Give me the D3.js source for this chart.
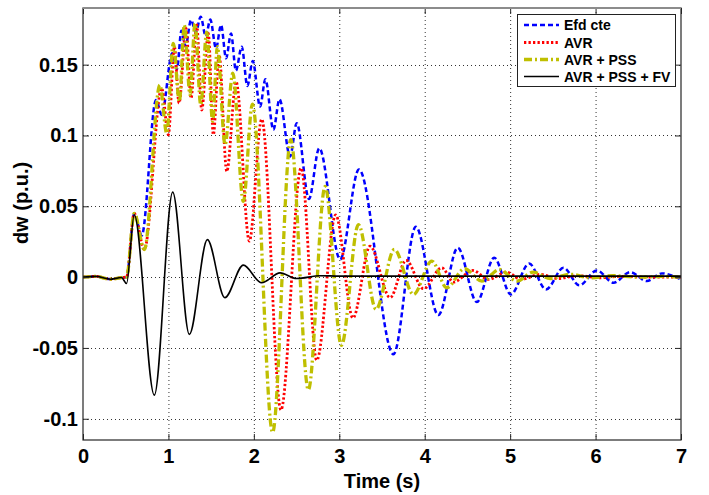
<!DOCTYPE html>
<html>
<head>
<meta charset="utf-8">
<script src="https://cdnjs.cloudflare.com/ajax/libs/d3/7.8.5/d3.min.js"></script>
<style>
  body { margin: 0; background: #fff; }
  text { font-family: "Liberation Sans", Arial, sans-serif; font-weight: bold; fill: #000; }
</style>
</head>
<body>
<script>
  // time (s) / speed deviation (p.u.), mostly at turning points
  const efdT = [0, 0.15, 0.32, 0.45, 0.51, 0.6, 0.687, 0.855, 0.921, 1.045, 1.10, 1.152, 1.20, 1.265, 1.32, 1.378, 1.437, 1.49, 1.557, 1.616, 1.675, 1.733, 1.79, 1.858, 1.924, 1.987, 2.073, 2.135, 2.229, 2.30, 2.424, 2.502, 2.645, 2.765, 3.01, 3.23, 3.634, 3.896, 4.16, 4.387, 4.61, 4.813, 5.008, 5.222, 5.42, 5.624, 5.81, 6.015, 6.21, 6.405, 6.6, 6.776, 7];
  const efdV = [0, 0.0005, -0.0015, -0.0003, 0, 0.045, 0.0294, 0.125, 0.1146, 0.158, 0.147, 0.174, 0.163, 0.1815, 0.173, 0.1838, 0.170, 0.1818, 0.1615, 0.178, 0.1545, 0.172, 0.1458, 0.1627, 0.135, 0.1526, 0.1204, 0.1397, 0.104, 0.1256, 0.0852, 0.1087, 0.0552, 0.091, 0.0125, 0.076, -0.0544, 0.0355, -0.0268, 0.0207, -0.0176, 0.0137, -0.0122, 0.0096, -0.0087, 0.0066, -0.0058, 0.0047, -0.004, 0.0035, -0.0028, 0.0026, -0.0016];

  const avrT = [0, 0.15, 0.32, 0.45, 0.51, 0.6, 0.718, 0.921, 0.999, 1.07, 1.124, 1.206, 1.265, 1.331, 1.39, 1.467, 1.526, 1.593, 1.683, 1.792, 1.947, 2.092, 2.317, 2.553, 2.736, 2.958, 3.16, 3.36, 3.595, 3.782, 3.985, 4.2, 4.336, 4.563, 4.746, 4.96, 5.13, 5.35, 5.55, 5.8, 6.05, 6.3, 6.6, 7];
  const avrV = [0, 0.0005, -0.0015, -0.0003, 0, 0.045, 0.0195, 0.1334, 0.1005, 0.1627, 0.1228, 0.1756, 0.1263, 0.178, 0.118, 0.172, 0.1005, 0.157, 0.0746, 0.138, 0.0254, 0.1115, -0.0938, 0.077, -0.0587, 0.0439, -0.0288, 0.0218, -0.0145, 0.0118, -0.0082, 0.0066, -0.0035, 0.0047, -0.0016, 0.0035, -0.0016, 0.002, -0.001, 0.001, -0.0005, 0.0005, 0, 0];

  const pssT = [0, 0.15, 0.32, 0.45, 0.51, 0.6, 0.718, 0.90, 0.98, 1.057, 1.128, 1.186, 1.253, 1.311, 1.378, 1.448, 1.518, 1.573, 1.663, 1.753, 1.877, 1.983, 2.22, 2.432, 2.638, 2.834, 3.025, 3.224, 3.43, 3.645, 3.868, 4.083, 4.258, 4.465, 4.67, 4.875, 5.08, 5.27, 5.47, 5.7, 5.95, 6.2, 6.5, 6.8, 7];
  const pssV = [0, 0.0005, -0.0015, -0.0003, 0, 0.045, 0.0195, 0.1357, 0.1017, 0.165, 0.124, 0.178, 0.1287, 0.179, 0.1216, 0.173, 0.11, 0.1627, 0.0935, 0.144, 0.0535, 0.1222, -0.1096, 0.097, -0.0796, 0.064, -0.0481, 0.0371, -0.0227, 0.0195, -0.0122, 0.0113, -0.0075, 0.0059, -0.0028, 0.0054, -0.0028, 0.0035, -0.001, 0.002, -0.0005, 0.001, 0, 0.0005, 0];

  const fvT = [0, 0.15, 0.32, 0.45, 0.51, 0.6, 0.835, 1.05, 1.245, 1.456, 1.66, 1.877, 2.09, 2.307, 2.50, 2.78, 3.0, 7];
  const fvV = [0, 0.0005, -0.0015, -0.0003, -0.0045, 0.044, -0.0833, 0.060, -0.0404, 0.0265, -0.0145, 0.0085, -0.004, 0.003, -0.001, 0.001, 0.0007, 0.0007];

  const seriesNames = ["Efd cte", "AVR", "AVR + PSS", "AVR + PSS + FV"];
  const xTicks = [0, 1, 2, 3, 4, 5, 6, 7];
  const yTicks = [-0.1, -0.05, 0, 0.05, 0.1, 0.15];

  const W = 709, H = 495;
  const pLeft = 83, pRight = 681, pTop = 8, pBottom = 440;

  const x = d3.scaleLinear().domain([0, 7]).range([pLeft, pRight]);
  const y = d3.scaleLinear().domain([-0.115, 0.19]).range([pBottom, pTop]);

  const svg = d3.select("body").append("svg")
    .attr("width", W).attr("height", H);

  svg.append("defs").append("clipPath").attr("id", "plot")
    .append("rect").attr("x", pLeft).attr("y", pTop)
    .attr("width", pRight - pLeft).attr("height", pBottom - pTop);

  // grid
  const grid = svg.append("g").attr("stroke", "#333").attr("stroke-width", 1)
    .attr("stroke-dasharray", "1,3");
  grid.selectAll("line.vx").data(xTicks.slice(1, -1)).enter().append("line")
    .attr("x1", d => x(d) + 0.5).attr("x2", d => x(d) + 0.5)
    .attr("y1", pTop).attr("y2", pBottom);
  grid.selectAll("line.hy").data(yTicks).enter().append("line")
    .attr("x1", pLeft).attr("x2", pRight)
    .attr("y1", d => Math.round(y(d)) + 0.5).attr("y2", d => Math.round(y(d)) + 0.5);

  const styles = [
    {t: efdT, v: efdV, color: "#0000ff", width: 2.5, dash: "5,3"},
    {t: avrT, v: avrV, color: "#ff0000", width: 2.8, dash: "2.3,2.2"},
    {t: pssT, v: pssV, color: "#bfbf00", width: 3.3, dash: "8,3,2,3"},
    {t: fvT,  v: fvV,  color: "#000000", width: 1.6, dash: null}
  ];

  const line = d3.line()
    .x(d => x(d[0])).y(d => y(d[1]))
    .curve(d3.curveMonotoneX);

  const plot = svg.append("g").attr("clip-path", "url(#plot)");
  styles.forEach(s => {
    plot.append("path")
      .datum(s.t.map((t, i) => [t, s.v[i]]))
      .attr("fill", "none")
      .attr("stroke", s.color)
      .attr("stroke-width", s.width)
      .attr("stroke-dasharray", s.dash)
      .attr("d", line);
  });

  // axes (ticks pointing inwards, MATLAB style)
  const xAxis = svg.append("g").attr("transform", `translate(0,${pBottom})`)
    .call(d3.axisBottom(x).tickValues(xTicks).tickSize(-6).tickPadding(9).tickFormat(d3.format("d")));
  const yAxis = svg.append("g").attr("transform", `translate(${pLeft},0)`)
    .call(d3.axisLeft(y).tickValues(yTicks).tickSize(-6).tickPadding(5).tickFormat(d => d === 0 ? "0" : String(+d.toFixed(2))));
  svg.append("g").attr("transform", `translate(0,${pTop})`)
    .call(d3.axisTop(x).tickValues(xTicks).tickSize(-6).tickFormat(""));
  svg.append("g").attr("transform", `translate(${pRight},0)`)
    .call(d3.axisRight(y).tickValues(yTicks).tickSize(-6).tickFormat(""));

  svg.selectAll(".domain").remove();
  svg.selectAll(".tick line").attr("stroke", "#262626");
  [xAxis, yAxis].forEach(a => a.selectAll("text")
    .style("font-size", "20px").style("font-weight", "bold")
    .attr("fill", "#000"));

  // box
  svg.append("rect").attr("x", pLeft).attr("y", pTop)
    .attr("width", pRight - pLeft).attr("height", pBottom - pTop)
    .attr("fill", "none").attr("stroke", "#262626").attr("stroke-width", 1.2);
  svg.append("line").attr("x1", pLeft).attr("x2", pRight).attr("y1", pTop).attr("y2", pTop)
    .attr("stroke", "#8c8c8c").attr("stroke-width", 2);

  // axis labels
  svg.append("text").attr("x", (pLeft + pRight) / 2).attr("y", 488)
    .attr("text-anchor", "middle").style("font-size", "20px").text("Time (s)");
  svg.append("text").attr("transform", "translate(28,203) rotate(-90)")
    .attr("text-anchor", "middle").style("font-size", "20px").text("dw (p.u.)");

  // legend
  const lg = svg.append("g");
  lg.append("rect").attr("x", 517.5).attr("y", 14.5).attr("width", 158).attr("height", 72)
    .attr("fill", "#fff").attr("stroke", "#222").attr("stroke-width", 1);
  const rowY = [25, 42.5, 59.5, 76.5];
  styles.forEach((s, i) => {
    lg.append("line").attr("x1", 524).attr("x2", 559)
      .attr("y1", rowY[i]).attr("y2", rowY[i])
      .attr("stroke", s.color).attr("stroke-width", s.width)
      .attr("stroke-dasharray", s.dash);
    lg.append("text").attr("x", 564).attr("y", rowY[i]).attr("dy", "0.36em")
      .style("font-size", "14px").text(seriesNames[i]);
  });
</script>
</body>
</html>
